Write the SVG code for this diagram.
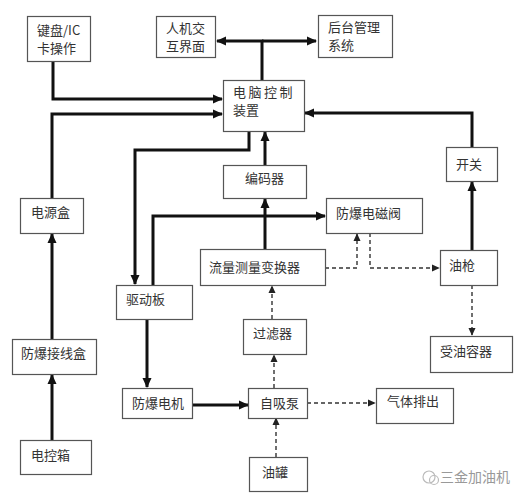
<svg xmlns="http://www.w3.org/2000/svg" width="520" height="500" viewBox="0 0 520 500">
<style>
.box{fill:#fff;stroke:#555;stroke-width:1.2}
.t{font-family:"Noto Sans CJK SC","Noto Sans",sans-serif;font-size:13px;fill:#333}
.s{fill:none;stroke:#111;stroke-width:3}
.d{fill:none;stroke:#333;stroke-width:1.4;stroke-dasharray:4 3}
.wm{font-family:"Noto Sans CJK SC","Noto Sans",sans-serif;font-size:14px;fill:#999}
</style>
<defs>
<marker id="a" markerUnits="userSpaceOnUse" markerWidth="10" markerHeight="10" viewBox="0 0 10 10" refX="9" refY="5" orient="auto">
<path d="M0,0.5 L10,5 L0,9.5 z" fill="#111"/>
</marker>
<marker id="b" markerUnits="userSpaceOnUse" markerWidth="8" markerHeight="8" viewBox="0 0 10 10" refX="9" refY="5" orient="auto">
<path d="M0,0.5 L10,5 L0,9.5 z" fill="#222"/>
</marker>
</defs>
<rect width="520" height="500" fill="#fff"/>
<g id="connectors">
<path class="s" d="M53,62 V99 H222" marker-end="url(#a)"/>
<path class="s" d="M52,198 V114 H222" marker-end="url(#a)"/>
<path class="s" d="M262,80 V41 H217" marker-end="url(#a)"/>
<path class="s" d="M262,41 H316" marker-end="url(#a)"/>
<path class="s" d="M249,131 V150 H135 V284" marker-end="url(#a)"/>
<path class="s" d="M472,147 V113 H305" marker-end="url(#a)"/>
<path class="s" d="M472,250 V182" marker-end="url(#a)"/>
<path class="s" d="M265,165 V132" marker-end="url(#a)"/>
<path class="s" d="M265,249 V199" marker-end="url(#a)"/>
<path class="s" d="M153,285 V216 H325" marker-end="url(#a)"/>
<path class="s" d="M147,319 V387" marker-end="url(#a)"/>
<path class="s" d="M192,405 H248" marker-end="url(#a)"/>
<path class="s" d="M52,339 V234" marker-end="url(#a)"/>
<path class="s" d="M52,440 V375" marker-end="url(#a)"/>
<path class="d" d="M325,268 H357 V234" marker-end="url(#b)"/>
<path class="d" d="M370,233 V268 H439" marker-end="url(#b)"/>
<path class="d" d="M472,285 V335" marker-end="url(#b)"/>
<path class="d" d="M272,319 V286" marker-end="url(#b)"/>
<path class="d" d="M274,388 V355" marker-end="url(#b)"/>
<path class="d" d="M276,457 V418" marker-end="url(#b)"/>
<path class="d" d="M307,403 H375" marker-end="url(#b)"/>
</g>
<g id="keyboard"><rect class="box" x="27.5" y="16.5" width="63" height="45"/>
<text class="t"><tspan x="37" y="35">键盘/IC</tspan><tspan x="37" y="53">卡操作</tspan></text></g>
<g id="hmi"><rect class="box" x="156.5" y="16.5" width="59" height="41"/>
<text class="t"><tspan x="166" y="33">人机交</tspan><tspan x="166" y="51">互界面</tspan></text></g>
<g id="backend"><rect class="box" x="318.5" y="15.5" width="74" height="42"/>
<text class="t"><tspan x="328" y="32">后台管理</tspan><tspan x="328" y="50">系统</tspan></text></g>
<g id="pc"><rect class="box" x="223.5" y="80.5" width="81" height="51"/>
<text class="t"><tspan x="233" y="97" letter-spacing="2.5">电脑控制</tspan><tspan x="233" y="115">装置</tspan></text></g>
<g id="switch"><rect class="box" x="446.5" y="147.5" width="51" height="34"/>
<text class="t" x="456" y="169">开关</text></g>
<g id="encoder"><rect class="box" x="223.5" y="165.5" width="83" height="33"/>
<text class="t" x="245" y="183">编码器</text></g>
<g id="power"><rect class="box" x="20.5" y="198.5" width="63" height="35"/>
<text class="t" x="31" y="217">电源盒</text></g>
<g id="valve"><rect class="box" x="326.5" y="198.5" width="96" height="35"/>
<text class="t" x="336" y="218">防爆电磁阀</text></g>
<g id="flow"><rect class="box" x="200.5" y="249.5" width="125" height="36"/>
<text class="t" x="209" y="272">流量测量变换器</text></g>
<g id="nozzle"><rect class="box" x="440.5" y="250.5" width="57" height="35"/>
<text class="t" x="449" y="270">油枪</text></g>
<g id="driver"><rect class="box" x="116.5" y="285.5" width="76" height="34"/>
<text class="t" x="126" y="304">驱动板</text></g>
<g id="filter"><rect class="box" x="243.5" y="319.5" width="63" height="35"/>
<text class="t" x="253" y="338">过滤器</text></g>
<g id="receiver"><rect class="box" x="430.5" y="336.5" width="82" height="36"/>
<text class="t" x="440" y="356">受油容器</text></g>
<g id="junction"><rect class="box" x="12.5" y="339.5" width="84" height="35"/>
<text class="t" x="21" y="358">防爆接线盒</text></g>
<g id="motor"><rect class="box" x="122.5" y="388.5" width="70" height="30"/>
<text class="t" x="132" y="408">防爆电机</text></g>
<g id="pump"><rect class="box" x="248.5" y="388.5" width="59" height="30"/>
<text class="t" x="260" y="408">自吸泵</text></g>
<g id="gas"><rect class="box" x="376.5" y="388.5" width="77" height="35"/>
<text class="t" x="387" y="406">气体排出</text></g>
<g id="cabinet"><rect class="box" x="20.5" y="440.5" width="71" height="34"/>
<text class="t" x="31" y="460">电控箱</text></g>
<g id="tank"><rect class="box" x="249.5" y="457.5" width="58" height="34"/>
<text class="t" x="262" y="477">油罐</text></g>
<g id="watermark">
<circle cx="429" cy="477" r="6" fill="none" stroke="#bbb" stroke-width="1.2"/>
<circle cx="434" cy="480" r="4.5" fill="none" stroke="#bbb" stroke-width="1.2"/>
<text class="wm" x="440" y="482">三金加油机</text></g>
</svg>
